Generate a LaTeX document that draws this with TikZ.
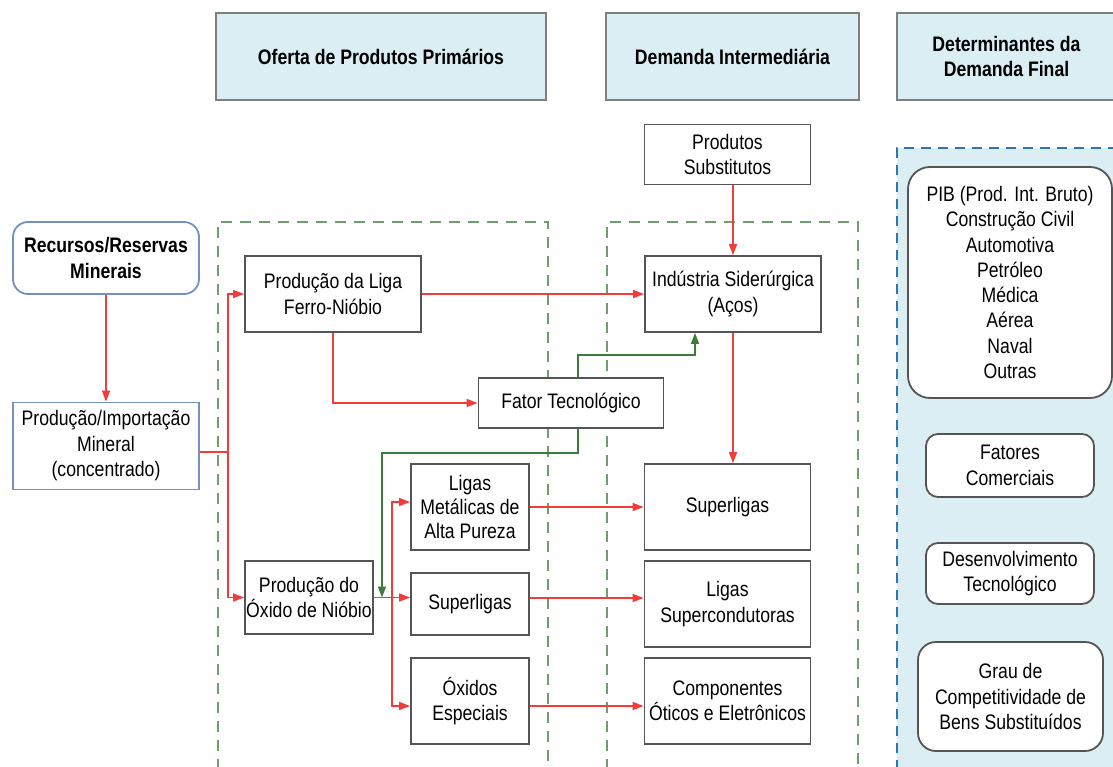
\documentclass[tikz,border=0pt]{standalone}
\usepackage{fontspec}
\setmainfont{Liberation Sans}[FakeStretch=0.84]
\usetikzlibrary{arrows.meta}
\definecolor{hdrfill}{HTML}{DAEEF3}
\definecolor{hdrline}{HTML}{7F7F7F}
\definecolor{boxline}{HTML}{555555}
\definecolor{srcline}{HTML}{7290C2}
\definecolor{flowred}{HTML}{F23B3B}
\definecolor{techgreen}{HTML}{3C7D3C}
\definecolor{zonegreen}{HTML}{6E9E6E}
\definecolor{zoneblue}{HTML}{2E75B6}
\begin{document}
\begin{tikzpicture}[x=1pt,y=-1pt,
  font=\fontsize{21}{25.5}\selectfont,
  box/.style={draw=boxline, line width=1.8pt, fill=white, align=center, inner sep=0pt},
  srcbox/.style={box, draw=srcline},
  rbox/.style={box, rounded corners=12pt},
  hdr/.style={draw=hdrline, line width=2pt, fill=hdrfill, align=center, inner sep=0pt,
    font=\fontsize{21}{25.5}\selectfont\bfseries, minimum height=87pt},
  flow/.style={draw=flowred, line width=1.5pt},
  flowarrow/.style={flow, -{Triangle[length=11pt,width=8pt]}},
  techarrow/.style={draw=techgreen, line width=1.5pt, -{Triangle[length=11pt,width=8pt]}},
  zone/.style={draw=zonegreen, line width=1.6pt, dash pattern=on 11pt off 8pt},
  demandzone/.style={draw=zoneblue, line width=2.5pt, dash pattern=on 10pt off 7pt}]
\useasboundingbox (0,0) rectangle (1113,767);

% column headers
\node[hdr, minimum width=330pt] (hsupply) at (381,56.5) {Oferta de Produtos Primários};
\node[hdr, minimum width=253pt] (hdemand) at (732.5,56.5) {Demanda Intermediária};
\node[hdr, minimum width=219pt] (hfinal) at (1006.5,56.5) {Determinantes da\\Demanda Final};

% dashed zones
\draw[zone] (218,770) -- (218,222) -- (548,222) -- (548,770);
\draw[zone] (607,770) -- (607,222) -- (858,222) -- (858,770);
\fill[hdrfill] (897,148) rectangle (1116,770);
\draw[demandzone] (897,770) -- (897,148) -- (1116,148);

% mineral source
\node[srcbox, rounded corners=15pt, minimum width=186pt, minimum height=72pt, font=\fontsize{21}{25.5}\selectfont\bfseries] (rec) at (106,258) {Recursos/Reservas\\Minerais};
\node[srcbox, minimum width=186pt, minimum height=87pt] (prod) at (106,446) {Produção/Importação\\Mineral\\(concentrado)};

% primary products
\node[box, minimum width=176pt, minimum height=76pt] (liga) at (333,294) {Produção da Liga\\Ferro-Nióbio};
\node[box, minimum width=185pt, minimum height=50pt] (fator) at (571,403) {Fator Tecnológico};
\node[box, minimum width=128pt, minimum height=73pt] (oxido) at (309,597.5) {Produção do\\Óxido de Nióbio};
\node[box, minimum width=118pt, minimum height=86pt, font=\fontsize{21}{24}\selectfont] (ligasmet) at (470,507) {Ligas\\Metálicas de\\Alta Pureza};
\node[box, minimum width=118pt, minimum height=62pt] (superm) at (470,604) {Superligas};
\node[box, minimum width=118pt, minimum height=86pt] (oxidos) at (470,701) {Óxidos\\Especiais};

% intermediate demand
\node[box, minimum width=166pt, minimum height=60pt] (subst) at (727.5,154.5) {Produtos\\Substitutos};
\node[box, minimum width=176pt, minimum height=76pt] (ind) at (733,294) {Indústria Siderúrgica\\(Aços)};
\node[box, minimum width=166pt, minimum height=86pt] (superr) at (727.5,507) {Superligas};
\node[box, minimum width=166pt, minimum height=86pt] (ligassup) at (727.5,604) {Ligas\\Supercondutoras};
\node[box, minimum width=166pt, minimum height=86pt] (comp) at (727.5,701) {Componentes\\Óticos e Eletrônicos};

% final demand determinants
\node[box, rounded corners=22pt, minimum width=204pt, minimum height=231pt, font=\fontsize{21}{25.3}\selectfont] (pib) at (1010,282.5)
  {PIB (Prod. Int. Bruto)\\Construção Civil\\Automotiva\\Petróleo\\Médica\\Aérea\\Naval\\Outras};
\node[rbox, minimum width=168pt, minimum height=63pt] (fatcom) at (1010,465.5) {Fatores\\Comerciais};
\node[rbox, minimum width=168pt, minimum height=61pt] (desenv) at (1010,573.5) {Desenvolvimento\\Tecnológico};
\node[box, rounded corners=18pt, minimum width=185pt, minimum height=109pt] (grau) at (1010.5,696.5) {Grau de\\Competitividade de\\Bens Substituídos};

% flows from the mineral source
\coordinate (split) at (228,452);
\coordinate (oxsplit) at (392,597.5);
\coordinate (techdrop) at (382,597.5);
\draw[flowarrow] (rec.south) -- (prod.north);
\draw[flow] (prod.east |- split) -- (split);
\draw[flowarrow] (split) |- (liga.west);
\draw[flowarrow] (split) |- (oxido.west);

% ferro-niobium branch
\draw[flowarrow] (liga.east) -- (ind.west);
\draw[flowarrow] (liga.south) |- (fator.west);
\draw[flowarrow] (ind.north |- subst.south) -- (ind.north);
\draw[flowarrow] (ind.south) -- (ind.south |- superr.north);

% technology factor
\draw[techarrow] ([xshift=7pt]fator.north) -- ++(0,-22) -| ([xshift=-38pt]ind.south);
\draw[techarrow] ([xshift=7pt]fator.south) -- ++(0,24) -| (techdrop);

% niobium oxide branch
\draw[flowarrow] (oxido.east) -- (oxido.east -| superm.west);
\draw[flowarrow] (oxsplit) |- ([yshift=5pt]ligasmet.west);
\draw[flowarrow] (oxsplit) |- ([yshift=-5pt]oxidos.west);
\draw[flowarrow] (ligasmet.east) -- (superr.west);
\draw[flowarrow] ([yshift=6pt]superm.east) -- ([yshift=6pt]ligassup.west);
\draw[flowarrow] ([yshift=-5pt]oxidos.east) -- ([yshift=-5pt]comp.west);
\end{tikzpicture}
\end{document}
